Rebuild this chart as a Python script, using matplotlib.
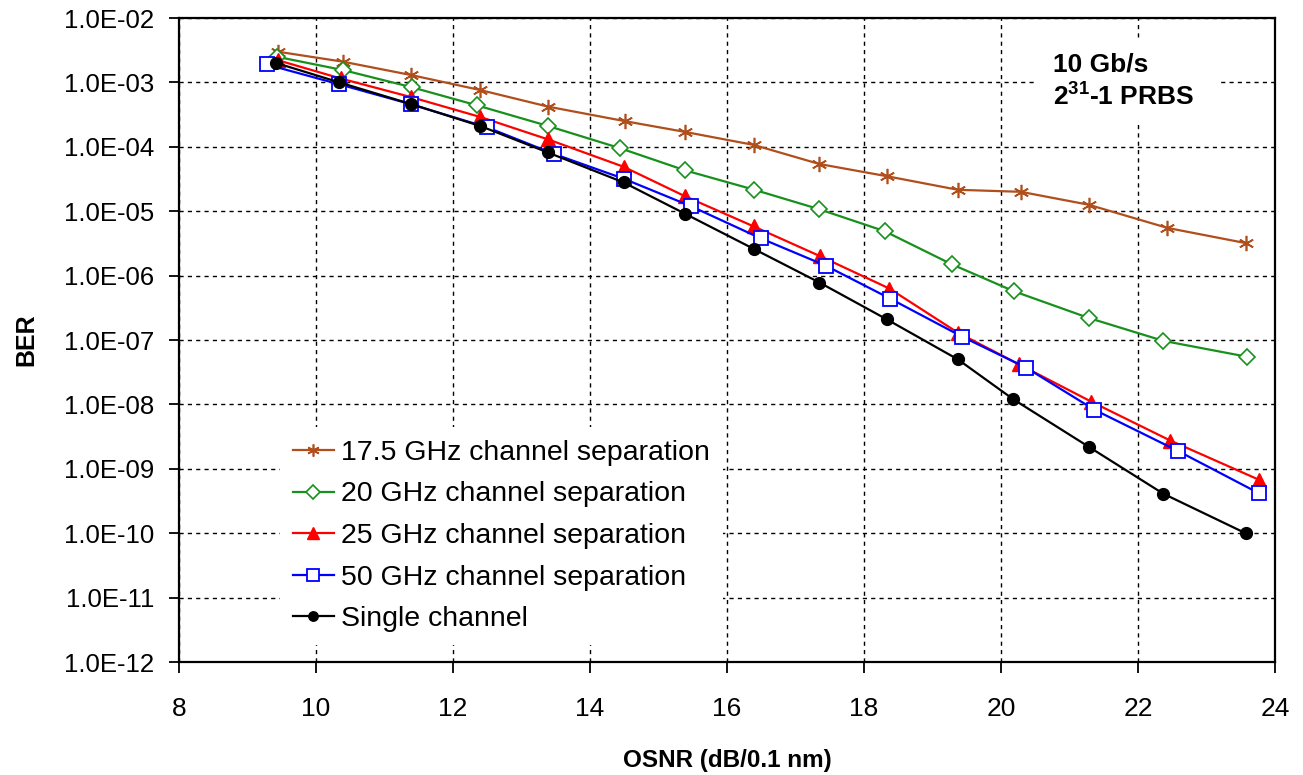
import matplotlib
matplotlib.use("Agg")
import matplotlib.pyplot as plt
from matplotlib.ticker import FixedLocator, FuncFormatter
from matplotlib.patches import Rectangle

plt.rcParams['font.family'] = ['Liberation Sans', 'DejaVu Sans']
plt.rcParams['mathtext.fontset'] = 'custom'
plt.rcParams['mathtext.rm'] = 'Liberation Sans'
plt.rcParams['mathtext.bf'] = 'Liberation Sans:bold'

# BER versus OSNR for different channel separations (10 Gb/s, 2^31-1 PRBS)
osnr_175 = [9.44, 10.39, 11.39, 12.40, 13.39, 14.51, 15.39, 16.39, 17.35, 18.33, 19.37, 20.29, 21.28, 22.43, 23.57]
ber_175 = [3.0e-3, 2.1e-3, 1.3e-3, 7.6e-4, 4.2e-4, 2.5e-4, 1.7e-4, 1.07e-4, 5.4e-5, 3.5e-5, 2.15e-5, 2.0e-5, 1.26e-5, 5.5e-6, 3.2e-6]

osnr_20 = [9.43, 10.40, 11.40, 12.35, 13.39, 14.44, 15.39, 16.40, 17.35, 18.30, 19.28, 20.19, 21.28, 22.37, 23.59]
ber_20 = [2.5e-3, 1.55e-3, 8.4e-4, 4.4e-4, 2.1e-4, 9.5e-5, 4.3e-5, 2.15e-5, 1.07e-5, 4.9e-6, 1.5e-6, 5.7e-7, 2.2e-7, 9.7e-8, 5.5e-8]

osnr_25 = [9.45, 10.36, 11.39, 12.40, 13.39, 14.49, 15.39, 16.39, 17.36, 18.37, 19.37, 20.26, 21.32, 22.47, 23.76]
ber_25 = [2.2e-3, 1.15e-3, 5.9e-4, 2.9e-4, 1.3e-4, 4.9e-5, 1.7e-5, 5.8e-6, 2.0e-6, 6.3e-7, 1.3e-7, 4.2e-8, 1.1e-8, 2.75e-9, 6.8e-10]

osnr_50 = [9.28, 10.33, 11.38, 12.50, 13.48, 14.49, 15.47, 16.49, 17.44, 18.38, 19.43, 20.37, 21.36, 22.58, 23.76]
ber_50 = [1.9e-3, 9.4e-4, 4.6e-4, 2.0e-4, 7.7e-5, 3.2e-5, 1.2e-5, 3.8e-6, 1.43e-6, 4.4e-7, 1.13e-7, 3.7e-8, 8.3e-9, 1.9e-9, 4.2e-10]

osnr_single = [9.42, 10.34, 11.39, 12.40, 13.38, 14.49, 15.39, 16.39, 17.35, 18.33, 19.37, 20.18, 21.28, 22.37, 23.57]
ber_single = [2.0e-3, 1.0e-3, 4.6e-4, 2.1e-4, 8.2e-5, 2.8e-5, 9.1e-6, 2.6e-6, 7.8e-7, 2.1e-7, 5.0e-8, 1.2e-8, 2.2e-9, 4.1e-10, 1.0e-10]

labels = ["17.5 GHz channel separation", "20 GHz channel separation",
          "25 GHz channel separation", "50 GHz channel separation", "Single channel"]
x_ticks = [8, 10, 12, 14, 16, 18, 20, 22, 24]
y_ticks = [1e-12, 1e-11, 1e-10, 1e-9, 1e-8, 1e-7, 1e-6, 1e-5, 1e-4, 1e-3, 1e-2]

W, H = 1303, 775
fig = plt.figure(figsize=(W / 100, H / 100), dpi=100)
fig.patch.set_facecolor("white")
ax = fig.add_axes([179 / W, 1 - 662 / H, (1275 - 179) / W, (662 - 18) / H])

lw = 1.6
ax.plot(osnr_175, ber_175, color="#B04E1C", lw=lw, marker=(6, 2, 0), ms=11, mew=1.2,
        label=labels[0], zorder=3)
ax.plot(osnr_20, ber_20, color="#18901C", lw=lw, marker="D", ms=8.5, mfc="white", mec="#18901C",
        mew=1.2, label=labels[1], zorder=3)
ax.plot(osnr_25, ber_25, color="#FF0000", lw=lw, marker="^", ms=10, mfc="#FF0000", mec="#FF0000",
        label=labels[2], zorder=4)
ax.plot(osnr_50, ber_50, color="#0000FF", lw=lw, marker="s", ms=10, mfc="white", mec="#0000FF",
        mew=1.3, label=labels[3], zorder=5)
ax.plot(osnr_single, ber_single, color="black", lw=lw, marker="o", ms=8.5, mfc="black",
        label=labels[4], zorder=6)

ax.set_yscale("log")
ax.set_xlim(8, 24)
ax.set_ylim(1e-12, 1e-2)
ax.xaxis.set_major_locator(FixedLocator(x_ticks))
ax.yaxis.set_major_locator(FixedLocator(y_ticks))
ax.yaxis.set_minor_locator(FixedLocator([]))
ax.yaxis.set_major_formatter(FuncFormatter(lambda v, p: f"{v:.1E}"))

ax.grid(True, which="major", color="black", linestyle=(0, (3, 3)), linewidth=1.0)
for s in ax.spines.values():
    s.set_linewidth(1.6)
    s.set_color("black")

ax.tick_params(axis="y", direction="out", length=7, width=1.3, pad=11, labelsize=18.5)
ax.tick_params(axis="x", direction="out", length=8, width=1.3, pad=17, labelsize=19)

ax.set_xlabel("OSNR (dB/0.1 nm)", fontsize=17.5, fontweight="bold", labelpad=20)
ax.set_ylabel("BER", fontsize=18, fontweight="bold", labelpad=18)

# white panel behind the annotation
ax.add_patch(Rectangle((1037 / W, 1 - 125 / H), (1220 - 1037) / W, (125 - 40) / H,
                       transform=fig.transFigure, facecolor="white", edgecolor="none", zorder=1.8))
fig.text(1053 / W, 1 - 65 / H, "10 Gb/s", fontsize=19, fontweight="bold", va="center", ha="left")
fig.text(1053 / W, 1 - 97 / H, r"$\mathbf{2^{31}}$-1 PRBS", fontsize=19, fontweight="bold",
         va="center", ha="left")

leg = ax.legend(loc="upper left", bbox_to_anchor=(280 / W, 1 - 427 / H),
                bbox_transform=fig.transFigure, fontsize=20.5, frameon=True, fancybox=False,
                framealpha=1, facecolor="white", edgecolor="none", borderaxespad=0,
                borderpad=0.45, handlelength=1.45, handletextpad=0.25, labelspacing=0.55,
                numpoints=1, markerscale=0.8)
leg.set_zorder(7)

fig.savefig("out.png", dpi=100)
